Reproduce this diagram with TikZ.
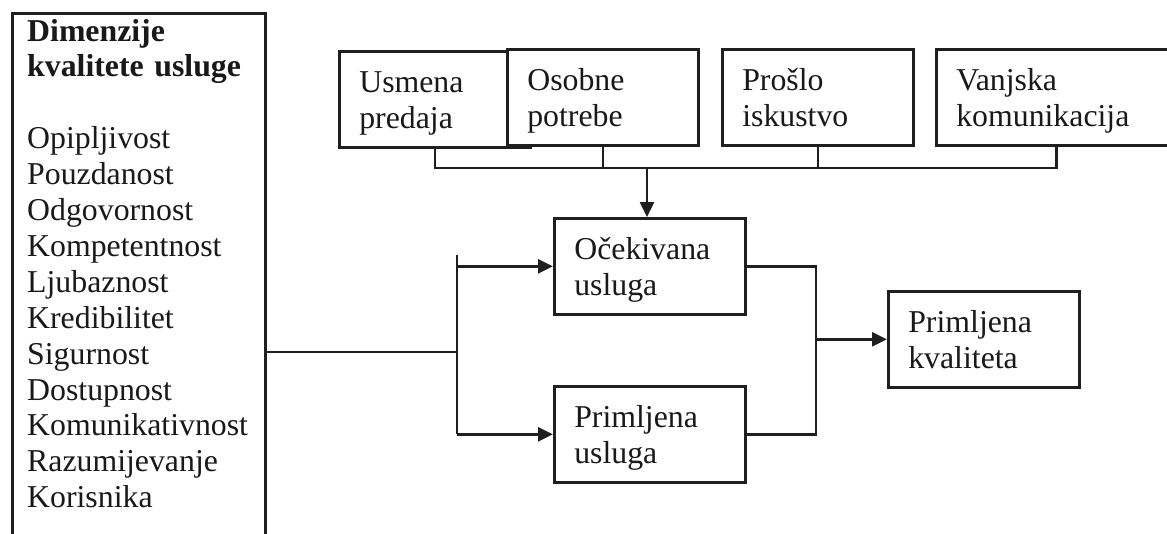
\documentclass[tikz,border=0pt]{standalone}
\usepackage{fontspec}
\setmainfont{Liberation Serif}
\usetikzlibrary{arrows.meta}
\newcommand{\bigfs}{\fontsize{31.8}{35.9}\selectfont}
\begin{document}
\begin{tikzpicture}[x=1pt,y=1pt,
  ln/.style={line width=2.6pt, draw=black!88},
  box/.style={ln, fill=white, rectangle, minimum width=191pt, minimum height=96pt,
    inner xsep=20pt, inner ysep=4pt, text width=151pt, align=left,
    text height=22pt, text depth=35pt, font=\bigfs, anchor=north west, text=black!90},
  arr/.style={ln, -{Triangle[length=15pt,width=14pt]}}]
\path[use as bounding box, clip] (0,0) rectangle (1167,-533);
\fill[white] (0,0) rectangle (1167,-533);

% left box
\node[ln, rectangle, anchor=north west, minimum width=253pt, minimum height=560pt, inner sep=0] (dim) at (11,-12) {};
\node[anchor=base west, inner sep=0, text width=240pt, align=left, font=\bigfs, text=black!90] (dimtext) at (27,-41)
  {\textbf{Dimenzije}\\\textbf{kvalitete usluge}\\[35.9pt]Opipljivost\\Pouzdanost\\Odgovornost\\Kompetentnost\\Ljubaznost\\Kredibilitet\\Sigurnost\\Dostupnost\\Komunikativnost\\Razumijevanje\\Korisnika};

% top boxes
\node[box] (usm) at (338,-50) {Usmena\\predaja};
\node[box] (oso) at (506,-48) {Osobne\\potrebe};
\node[box] (pro) at (721,-48) {Prošlo\\iskustvo};
\node[box, minimum width=240pt, text width=200pt] (vanj) at (935,-48) {Vanjska\\komunikacija};

% middle boxes
\node[box] (oce) at (553,-217) {Očekivana\\usluga};
\node[box] (pus) at (553,-385) {Primljena\\usluga};
\node[box] (pkv) at (887,-290) {Primljena\\kvaliteta};

% top bus
\coordinate (bus) at (647,-168);
\draw[ln] (usm.south) -- (usm.south |- bus) -- (vanj.south |- bus) -- (vanj.south);
\draw[ln] (oso.south) -- (oso.south |- bus);
\draw[ln] (pro.south) -- (pro.south |- bus);
\draw[arr] (bus) -- (bus |- oce.north);

% left branch
\coordinate (jn) at (457,-352);
\coordinate (bt) at (457,-255);
\draw[ln] (dim.east |- jn) -- (jn);
\draw[ln] (bt) -- (jn |- pus.west);
\draw[arr] (jn |- oce.west) -- (oce.west);
\draw[arr] (jn |- pus.west) -- (pus.west);

% right branch
\coordinate (rj) at (816,-338);
\draw[ln] (oce.east) -- (rj |- oce.east) -- (rj |- pus.east) -- (pus.east);
\draw[arr] (rj |- pkv.west) -- (pkv.west);
\end{tikzpicture}
\end{document}
